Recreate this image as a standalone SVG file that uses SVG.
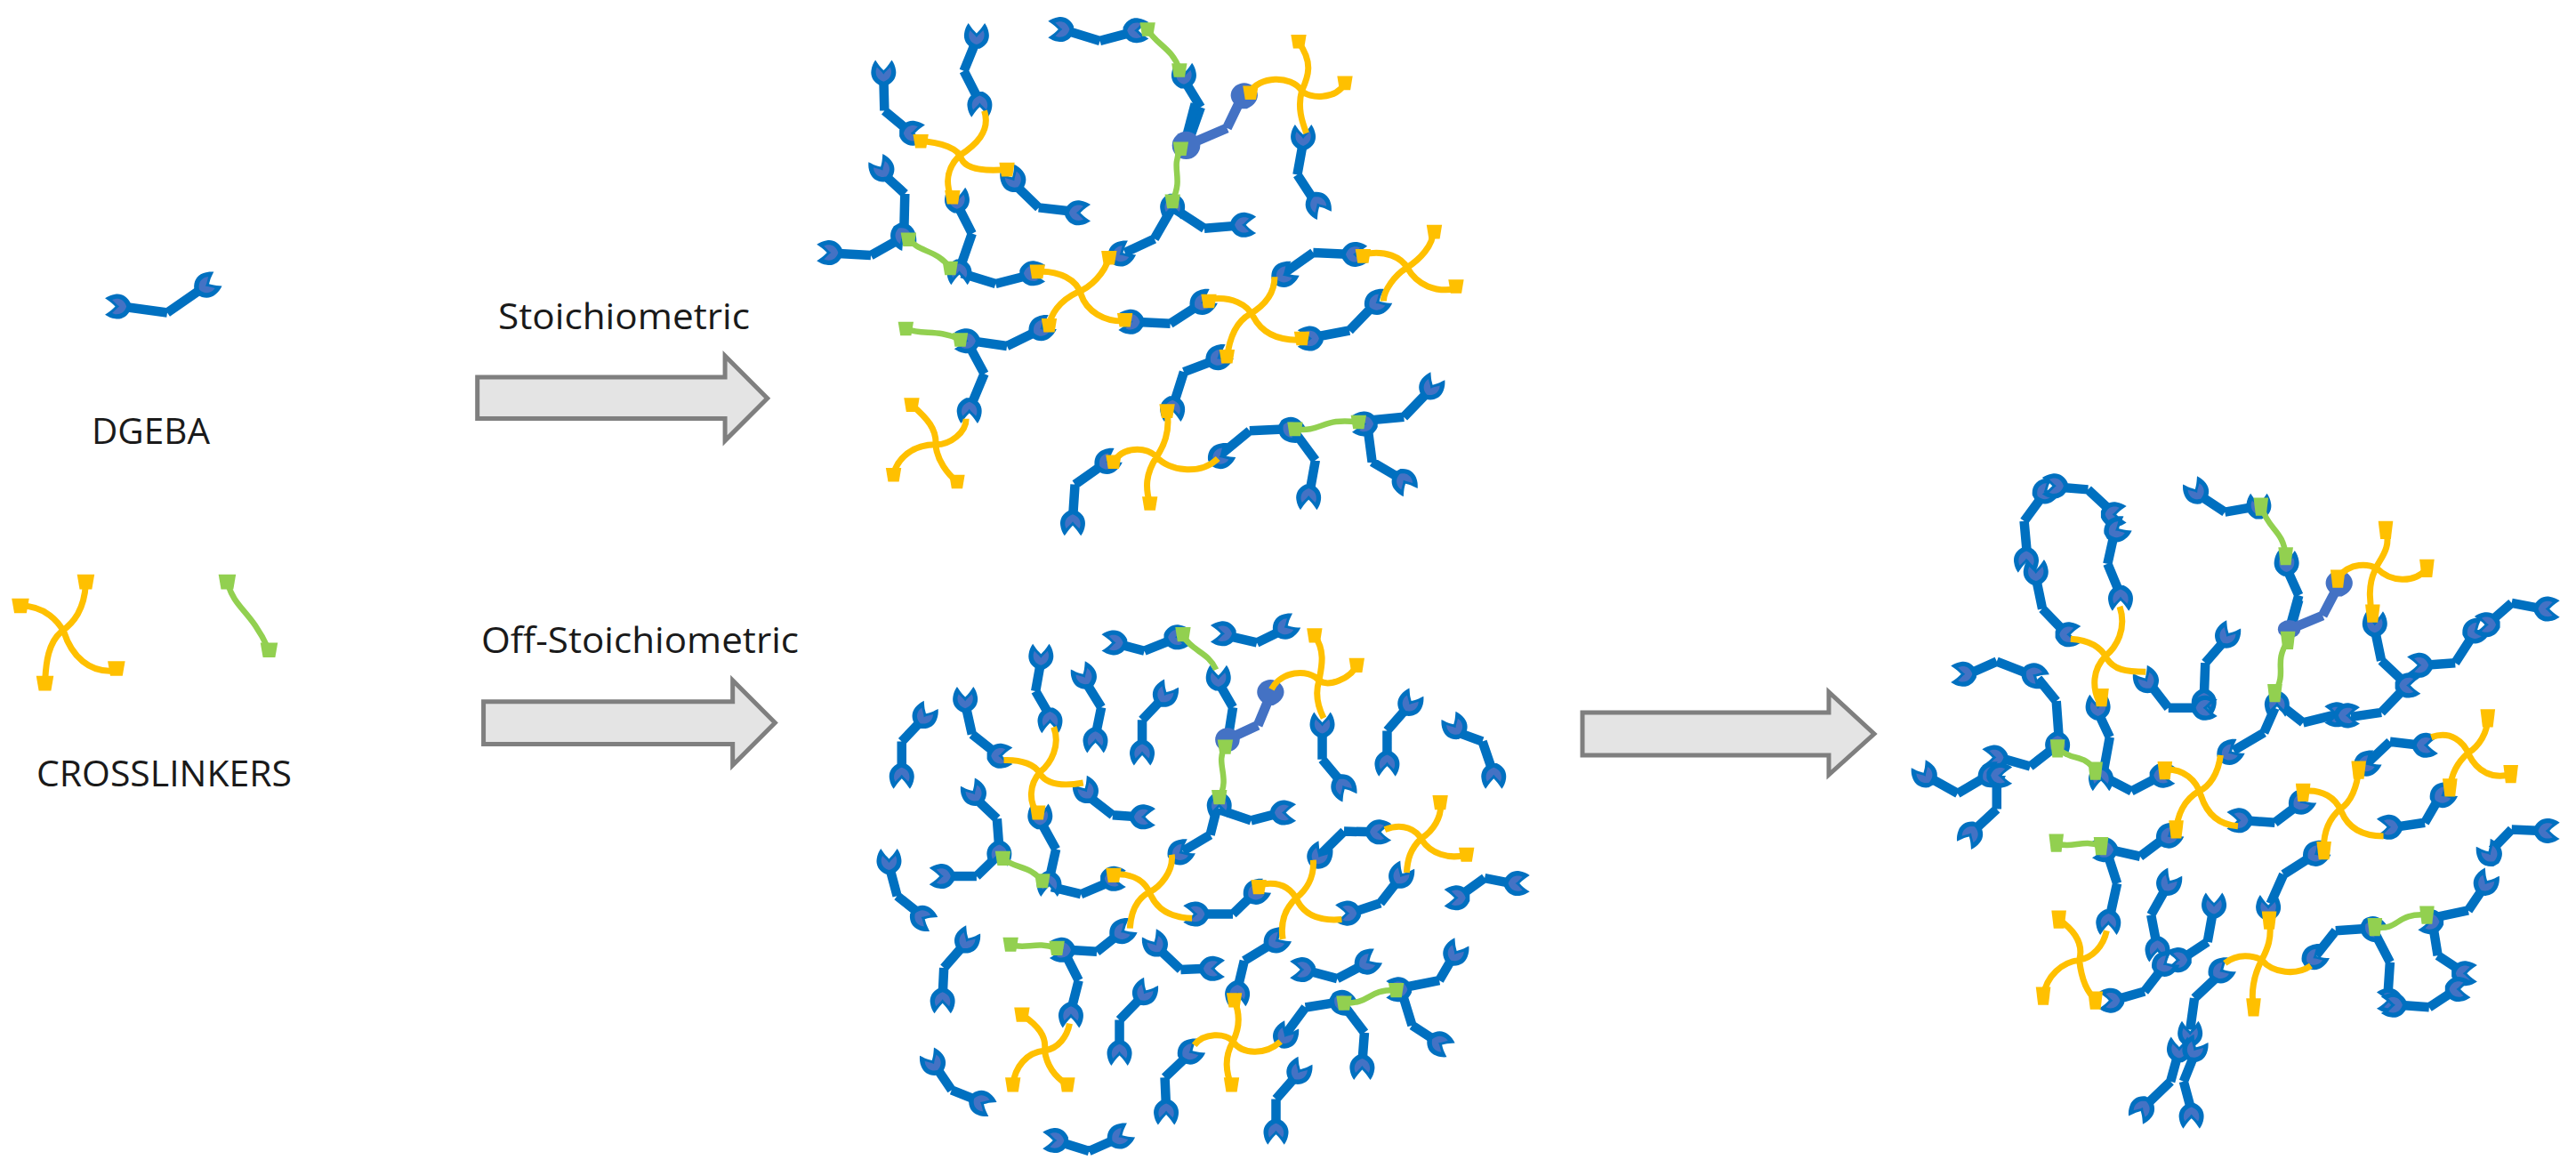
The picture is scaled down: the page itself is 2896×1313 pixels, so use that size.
<svg xmlns="http://www.w3.org/2000/svg" width="2896" height="1313" viewBox="0 0 2896 1313">
<style>
.b,.p,.y,.g{fill:none;vector-effect:non-scaling-stroke;stroke-linejoin:round}
.b{stroke:#0070C0;stroke-width:10.500}
.p{stroke:#4472C4;stroke-width:11}
.y{stroke:#FFC000;stroke-width:7}
.g{stroke:#92D050;stroke-width:6.500}
.arrow{fill:#E4E4E4;stroke:#7F7F7F;stroke-width:5;vector-effect:non-scaling-stroke}
text{font-family:"Open Sans","Liberation Sans",Arial,sans-serif;font-size:40px;fill:#1a1a1a}
</style>
<defs>
<g id="h" transform="scale(1.15)"><path fill="#0070C0" d="M-3 12C-10 9-13 3-12-3C-11.500-7-10-10-8-13C-6-10-4-7-2-5L0-3L2-5C4-7 6-10 8-13C10-10 11.500-7 12-3C13 3 10 9 3 12Z"/><path fill="#4472C4" d="M0 8C-6 6-8 2-7.500-3L-6.500-6L-1.500-1L0 1L1.500-1L6.500-6L7.500-3C8 2 6 6 0 8Z"/></g>
<path id="ph" fill="#4472C4" d="M-3 14C-12 10-16 3-15-3C-14-10-7-15 0-15C7-15 14-10 15-3C16 3 12 10 3 14Z"/>
<path id="ye" fill="#FFC000" d="M-17-20L17-20L12 20L-12 20Z"/>
<path id="ge" fill="#92D050" d="M-17-20L17-20L12 20L-12 20Z"/>
<g id="a0" transform="scale(1.96 2.57)"><use href="#h"/></g>
<g id="a30" transform="scale(1.96 2.57) rotate(30)"><use href="#h"/></g>
<g id="a60" transform="scale(1.96 2.57) rotate(60)"><use href="#h"/></g>
<g id="a90" transform="scale(1.96 2.57) rotate(90)"><use href="#h"/></g>
<g id="a120" transform="scale(1.96 2.57) rotate(120)"><use href="#h"/></g>
<g id="a150" transform="scale(1.96 2.57) rotate(150)"><use href="#h"/></g>
<g id="a180" transform="scale(1.96 2.57) rotate(180)"><use href="#h"/></g>
<g id="a270" transform="scale(1.96 2.57) rotate(270)"><use href="#h"/></g>
<g id="a330" transform="scale(1.96 2.57) rotate(330)"><use href="#h"/></g>
<g id="b0" transform="scale(1.96 2.475)"><use href="#h"/></g>
<g id="b30" transform="scale(1.96 2.475) rotate(30)"><use href="#h"/></g>
<g id="b60" transform="scale(1.96 2.475) rotate(60)"><use href="#h"/></g>
<g id="b90" transform="scale(1.96 2.475) rotate(90)"><use href="#h"/></g>
<g id="b120" transform="scale(1.96 2.475) rotate(120)"><use href="#h"/></g>
<g id="b150" transform="scale(1.96 2.475) rotate(150)"><use href="#h"/></g>
<g id="b180" transform="scale(1.96 2.475) rotate(180)"><use href="#h"/></g>
<g id="b270" transform="scale(1.96 2.475) rotate(270)"><use href="#h"/></g>
<g id="b330" transform="scale(1.96 2.475) rotate(330)"><use href="#h"/></g>
<g id="c0" transform="scale(2.047 1.976)"><use href="#h"/></g>
<g id="c30" transform="scale(2.047 1.976) rotate(30)"><use href="#h"/></g>
<g id="c60" transform="scale(2.047 1.976) rotate(60)"><use href="#h"/></g>
<g id="c90" transform="scale(2.047 1.976) rotate(90)"><use href="#h"/></g>
<g id="c120" transform="scale(2.047 1.976) rotate(120)"><use href="#h"/></g>
<g id="c150" transform="scale(2.047 1.976) rotate(150)"><use href="#h"/></g>
<g id="c180" transform="scale(2.047 1.976) rotate(180)"><use href="#h"/></g>
<g id="c210" transform="scale(2.047 1.976) rotate(210)"><use href="#h"/></g>
<g id="c270" transform="scale(2.047 1.976) rotate(270)"><use href="#h"/></g>
<g id="c330" transform="scale(2.047 1.976) rotate(330)"><use href="#h"/></g>
</defs>

<g id="legend-dgeba">
<path class="b" d="M133 344L188 351.500M188 351.500L232 321"/>
<use href="#h" transform="translate(133 344.500) rotate(270)"/>
<use href="#h" transform="translate(232 321) rotate(60)"/>
</g>
<g id="legend-crosslinkers" transform="translate(0 250) scale(.574 .4145)">
<path class="y" d="M40 1040C90 1040 115 1085 125 1110C140 1175 175 1225 228 1215M168 980C165 1050 145 1085 120 1110C95 1140 90 1190 88 1250"/>
<use href="#ye" x="168" y="975"/><use href="#ye" x="40" y="1040"/><use href="#ye" x="88" y="1250"/><use href="#ye" x="228" y="1210"/>
<path class="g" d="M445 975C460 1050 490 1050 525 1155"/>
<use href="#ge" x="445" y="975"/><use href="#ge" x="527" y="1160"/>
</g>
<g id="arrows" transform="translate(0 250) scale(.574 .4145)">
<path class="arrow" d="M935 420L1420 420L1420 362L1503 477L1420 592L1420 532L935 532Z"/>
<path class="arrow" d="M947 1300L1435 1300L1435 1242L1518 1357L1435 1472L1435 1415L947 1415Z"/>
</g>
<path id="arrow-3" class="arrow" d="M1779 801L2056 801L2056 778L2107 825L2056 871L2056 849L1779 849Z"/>

<text x="560" y="370" textLength="283" lengthAdjust="spacingAndGlyphs">Stoichiometric</text>
<text x="103" y="499" textLength="133" lengthAdjust="spacingAndGlyphs">DGEBA</text>
<text x="541" y="734" textLength="357" lengthAdjust="spacingAndGlyphs">Off-Stoichiometric</text>
<text x="41" y="884" textLength="287" lengthAdjust="spacingAndGlyphs">CROSSLINKERS</text>

<g id="network-stoichiometric" transform="translate(900 0) scale(.51 .389)">
<path class="b" d="M585 88L660 118M660 118L735 92M388 115L360 205M360 205L395 295M183 220L185 320M185 320L240 380M180 500L230 560M230 560L228 670M75 732L155 738M155 738L220 690M345 590L378 675M378 675L350 780M355 790L430 820M430 820L505 795M470 530L525 600M525 600L605 612M845 230L882 310M882 310L855 410M820 600L890 660M890 660L965 652M815 610L780 690M780 690L715 730M1108 410L1095 505M1095 505L1135 585M525 955L455 1000M455 1000L375 985M370 995L405 1080M405 1080L375 1175M735 930L815 935M815 935L880 880M1060 795L1130 730M1130 730L1215 735M1265 880L1210 955M1210 955L1130 975M915 1040L845 1075M845 1075L822 1170M925 1315L990 1245M990 1245L1075 1240M1090 1250L1135 1330M1135 1330L1122 1425M1250 1215L1330 1205M1330 1205L1385 1130M1250 1235L1260 1335M1260 1335L1325 1385M670 1340L605 1400M605 1400L600 1500"/>
<use href="#a270" x="575" y="85"/><use href="#a90" x="738" y="88"/><use href="#a0" x="388" y="105"/><use href="#a180" x="395" y="300"/><use href="#a0" x="183" y="212"/><use href="#a90" x="245" y="385"/><use href="#a330" x="180" y="490"/><use href="#a150" x="225" y="680"/><use href="#a270" x="65" y="730"/><use href="#a0" x="345" y="580"/><use href="#a180" x="350" y="785"/><use href="#a90" x="510" y="790"/><use href="#a330" x="470" y="520"/><use href="#a90" x="610" y="615"/><use href="#a0" x="845" y="220"/><use href="#a180" x="820" y="595"/><use href="#a90" x="975" y="650"/><use href="#a60" x="705" y="735"/><use href="#a0" x="1108" y="398"/><use href="#a150" x="1140" y="590"/><use href="#a60" x="530" y="950"/><use href="#a270" x="368" y="985"/><use href="#a180" x="372" y="1185"/><use href="#a270" x="730" y="930"/><use href="#a60" x="885" y="875"/><use href="#a60" x="1065" y="795"/><use href="#a90" x="1220" y="735"/><use href="#a60" x="1270" y="875"/><use href="#a270" x="1125" y="978"/><use href="#a60" x="920" y="1035"/><use href="#a180" x="820" y="1180"/><use href="#a60" x="925" y="1320"/><use href="#a120" x="1080" y="1240"/><use href="#a180" x="1120" y="1435"/><use href="#a270" x="1245" y="1225"/><use href="#a30" x="1390" y="1120"/><use href="#a150" x="1330" y="1390"/><use href="#a60" x="675" y="1335"/><use href="#a180" x="600" y="1510"/>
<path class="b" d="M850 400L870 300"/>
<path class="p" d="M975 275L940 370M940 370L860 415"/>
<ellipse cx="850" cy="420" rx="31" ry="40" fill="#4472C4"/>
<use href="#ph" transform="translate(978 278) scale(1.96 2.57)"/>
<path class="y" d="M262 408C310 410 350 430 355 460C365 490 410 495 455 490M405 320C420 380 385 420 350 450C320 490 320 530 332 570M1098 122C1130 180 1120 220 1105 262C1095 310 1105 350 1115 385M990 268C1010 220 1080 215 1105 262C1120 285 1180 290 1200 240M520 785C570 780 610 810 618 850C630 900 670 930 715 928M680 745C670 790 640 830 610 845C570 870 550 910 548 945M900 865C950 855 985 880 998 915C1020 970 1060 985 1105 982M1045 800C1045 850 1020 885 990 908C960 930 945 980 940 1035M1240 735C1290 720 1325 745 1338 775C1360 825 1400 845 1445 835M1395 665C1395 710 1365 750 1335 775C1310 795 1285 840 1285 870M245 1170C280 1210 300 1240 298 1285C300 1330 325 1370 345 1392M365 1210C365 1250 330 1285 298 1285C250 1285 215 1320 205 1370M808 1190C815 1250 800 1290 785 1320C760 1370 760 1410 770 1455M690 1335C710 1290 760 1290 785 1320C810 1360 880 1375 920 1325"/>
<use href="#ye" x="265" y="408"/><use href="#ye" x="335" y="570"/><use href="#ye" x="1098" y="120"/><use href="#ye" x="1200" y="240"/><use href="#ye" x="992" y="268"/><use href="#ye" x="522" y="785"/><use href="#ye" x="680" y="745"/><use href="#ye" x="548" y="940"/><use href="#ye" x="715" y="925"/><use href="#ye" x="900" y="870"/><use href="#ye" x="940" y="1030"/><use href="#ye" x="1105" y="978"/><use href="#ye" x="1240" y="740"/><use href="#ye" x="1397" y="670"/><use href="#ye" x="1445" y="828"/><use href="#ye" x="245" y="1170"/><use href="#ye" x="345" y="1392"/><use href="#ye" x="205" y="1372"/><use href="#ye" x="808" y="1188"/><use href="#ye" x="770" y="1455"/><use href="#ye" x="690" y="1335"/><use href="#ye" x="455" y="490"/>
<path class="g" d="M765 85C785 130 820 140 835 200M838 430C815 490 845 510 820 580M238 690C260 730 300 720 330 775M232 950C270 970 300 950 350 980M1090 1240C1150 1250 1150 1205 1230 1220"/>
<use href="#ge" x="765" y="85"/><use href="#ge" x="835" y="203"/><use href="#ge" x="838" y="430"/><use href="#ge" x="820" y="582"/><use href="#ge" x="238" y="692"/><use href="#ge" x="330" y="775"/><use href="#ge" x="232" y="950"/><use href="#ge" x="352" y="982"/><use href="#ge" x="1090" y="1240"/><use href="#ge" x="1230" y="1220"/>
</g>

<g id="network-off-stoichiometric" transform="translate(950 680) scale(.51 .404)">
<path class="b" d="M600 108L660 128M660 128L725 95M840 85L908 105M908 105L965 70M432 155L420 240M420 240L452 310M528 210L565 285M565 285L552 365M700 260L655 320M655 320L655 400M823 215L855 285M855 285L845 365M1052 345L1052 430M1052 430L1095 495M1240 285L1195 350M1195 350L1195 430M1340 350L1405 380M1405 380L1428 465M170 320L125 380M125 380L125 465M265 275L280 360M280 360L335 415M97 725L115 810M115 810L165 860M285 535L335 595M335 595L340 680M225 755L290 755M290 755L335 700M430 600L465 680M465 680L450 765M455 785L520 805M520 805L585 770M532 528L590 585M590 585L645 590M825 570L895 600M895 600L955 580M820 565L805 640M805 640L745 685M785 860L855 860M855 860L900 805M1040 705L1100 630M1100 630L1165 632M1220 765L1180 830M1180 830L1120 855M945 940L880 990M880 990L865 1070M965 1205L1015 1120M1015 1120L1090 1105M1100 1115L1145 1190M1145 1190L1140 1275M1230 1065L1310 1045M1310 1045L1340 980M1228 1080L1250 1170M1250 1170L1305 1215M605 915L555 965M555 965L490 960M485 970L515 1045M515 1045L498 1130M1470 775L1410 760M1410 760L1355 810M263 945L218 1010M218 1010L215 1090M690 955L740 1015M740 1015L798 1012M1020 1018L1085 1040M1085 1040L1145 1000M655 1090L605 1155M605 1155L605 1235M755 1255L705 1315M705 1315L708 1400M995 1310L950 1375M950 1375L950 1455M200 1285L235 1350M235 1350L295 1380M475 1495L538 1520M538 1520L600 1485"/>
<use href="#b270" x="595" y="105"/><use href="#b90" x="730" y="90"/><use href="#b270" x="835" y="80"/><use href="#b60" x="970" y="62"/><use href="#b0" x="432" y="145"/><use href="#b180" x="452" y="320"/><use href="#b330" x="528" y="200"/><use href="#b180" x="552" y="375"/><use href="#b30" x="705" y="250"/><use href="#b180" x="655" y="410"/><use href="#b0" x="823" y="205"/><use href="#b0" x="1052" y="335"/><use href="#b150" x="1098" y="505"/><use href="#b30" x="1245" y="275"/><use href="#b180" x="1195" y="440"/><use href="#b330" x="1345" y="340"/><use href="#b180" x="1430" y="475"/><use href="#b30" x="175" y="310"/><use href="#b180" x="125" y="475"/><use href="#b0" x="265" y="265"/><use href="#b90" x="340" y="420"/><use href="#b0" x="97" y="715"/><use href="#b120" x="170" y="870"/><use href="#b330" x="285" y="525"/><use href="#b180" x="340" y="690"/><use href="#b270" x="215" y="755"/><use href="#b0" x="430" y="590"/><use href="#b180" x="450" y="775"/><use href="#b90" x="590" y="762"/><use href="#b330" x="532" y="518"/><use href="#b90" x="655" y="590"/><use href="#b180" x="825" y="555"/><use href="#b90" x="965" y="578"/><use href="#b60" x="738" y="690"/><use href="#b270" x="775" y="860"/><use href="#b60" x="905" y="800"/><use href="#b30" x="1045" y="700"/><use href="#b90" x="1175" y="632"/><use href="#b30" x="1225" y="755"/><use href="#b270" x="1110" y="858"/><use href="#b60" x="950" y="935"/><use href="#b180" x="865" y="1080"/><use href="#b30" x="970" y="1200"/><use href="#b120" x="1095" y="1105"/><use href="#b180" x="1140" y="1285"/><use href="#b270" x="1222" y="1070"/><use href="#b30" x="1345" y="970"/><use href="#b120" x="1310" y="1220"/><use href="#b60" x="610" y="910"/><use href="#b270" x="480" y="960"/><use href="#b180" x="498" y="1140"/><use href="#b90" x="1480" y="775"/><use href="#b270" x="1350" y="815"/><use href="#b30" x="268" y="935"/><use href="#b180" x="215" y="1100"/><use href="#b330" x="685" y="945"/><use href="#b90" x="808" y="1012"/><use href="#b270" x="1010" y="1015"/><use href="#b60" x="1150" y="995"/><use href="#b30" x="660" y="1080"/><use href="#b180" x="605" y="1245"/><use href="#b60" x="760" y="1245"/><use href="#b180" x="708" y="1410"/><use href="#b30" x="1000" y="1300"/><use href="#b180" x="950" y="1465"/><use href="#b330" x="195" y="1275"/><use href="#b120" x="300" y="1385"/><use href="#b270" x="465" y="1490"/><use href="#b60" x="605" y="1480"/>
<path class="p" d="M938 250L910 335M910 335L850 370"/>
<ellipse cx="843" cy="375" rx="27" ry="33" fill="#4472C4"/>
<use href="#ph" transform="translate(938 245) scale(1.96 2.475)"/>
<path class="y" d="M350 432C390 430 420 445 430 470C445 500 480 505 525 495M460 340C475 390 455 440 430 465C405 500 405 550 425 580M1035 85C1060 130 1050 175 1045 210C1035 250 1045 290 1055 315M940 235C960 185 1020 175 1045 210C1065 230 1115 205 1128 168M590 750C640 745 665 775 675 810C690 850 720 870 765 872M720 695C725 740 695 785 670 800C640 820 630 860 628 900M910 780C960 765 985 790 998 825C1015 865 1050 880 1095 875M1032 710C1035 760 1015 795 995 815C965 850 960 890 965 930M1190 625C1230 605 1260 625 1272 655C1290 690 1330 710 1370 695M1312 545C1318 590 1295 630 1270 650C1245 680 1240 710 1238 745M390 1140C425 1170 445 1200 440 1240C445 1285 465 1315 490 1335M495 1165C490 1200 470 1235 440 1240C400 1245 375 1285 370 1335M858 1100C875 1150 865 1190 855 1215C835 1260 840 1300 852 1340M770 1225C790 1190 840 1190 855 1215C875 1250 925 1255 960 1215"/>
<use href="#ye" x="425" y="578"/><use href="#ye" x="1035" y="85"/><use href="#ye" x="1128" y="168"/><use href="#ye" x="592" y="752"/><use href="#ye" x="912" y="785"/><use href="#ye" x="1312" y="550"/><use href="#ye" x="1370" y="695"/><use href="#ye" x="390" y="1140"/><use href="#ye" x="490" y="1335"/><use href="#ye" x="370" y="1335"/><use href="#ye" x="858" y="1100"/><use href="#ye" x="852" y="1335"/>
<path class="g" d="M745 85C765 130 800 130 818 180M838 395C815 440 850 480 825 535M348 705C375 735 410 725 435 770M362 945C400 960 420 935 465 955M1100 1108C1160 1110 1150 1070 1215 1072"/>
<use href="#ge" x="745" y="82"/><use href="#ge" x="838" y="395"/><use href="#ge" x="825" y="535"/><use href="#ge" x="348" y="705"/><use href="#ge" x="435" y="768"/><use href="#ge" x="365" y="945"/><use href="#ge" x="467" y="955"/><use href="#ge" x="1100" y="1108"/><use href="#ge" x="1215" y="1072"/>
</g>

<g id="network-final" transform="translate(2130 520) scale(.4885 .506)">
<path class="b" d="M340 75L298 130M298 130L305 205M380 55L445 60M445 60L495 105M505 160L490 225M490 225L518 290M325 255L340 325M340 325L390 375M705 75L760 110M760 110L830 98M902 235L930 295M930 295L910 365M890 540L940 578M940 578L1015 560M1050 565L1120 555M1120 555L1175 500M1105 370L1120 440M1120 440L1175 490M1220 450L1290 445M1290 445L1330 385M1375 350L1420 312M1420 312L1490 325M875 545L850 600M850 600L780 640M760 395L715 445M715 445L712 520M590 495L630 545M630 545L700 545M170 470L235 442M235 442L310 470M330 480L372 530M372 530L378 610M365 635L312 675M312 675L240 655M80 700L145 735M145 735L215 695M235 700L235 770M235 770L185 815M468 555L495 610M495 610L480 690M485 700L545 730M545 730L605 700M805 795L875 800M875 800L930 760M1080 675L1140 620M1140 620L1210 628M1250 750L1220 800M1220 800L1150 810M960 875L895 915M895 915L865 980M620 835L565 875M565 875L495 860M490 870L512 935M512 935L495 1010M625 945L590 1005M590 1005L603 1070M733 995L720 1065M720 1065L665 1100M615 1125L575 1175M575 1175L510 1193M745 1140L690 1190M690 1190L680 1260M652 1315L635 1375M635 1375L578 1428M690 1315L665 1375M665 1375L683 1440M970 1095L1015 1040M1015 1040L1090 1035M1105 1045L1140 1110M1140 1110L1135 1185M1245 1010L1320 995M1320 995L1355 945M1375 860L1420 815M1420 815L1490 818M1240 1035L1250 1095M1250 1095L1305 1130M1285 1175L1230 1210M1230 1210L1160 1205"/>
<use href="#c60" x="345" y="65"/><use href="#c180" x="303" y="215"/><use href="#c270" x="370" y="52"/><use href="#c90" x="503" y="115"/><use href="#c60" x="510" y="150"/><use href="#c180" x="520" y="300"/><use href="#c0" x="325" y="245"/><use href="#c90" x="398" y="382"/><use href="#c330" x="695" y="65"/><use href="#c0" x="838" y="98"/><use href="#c0" x="902" y="225"/><use href="#c180" x="880" y="535"/><use href="#c270" x="1020" y="560"/><use href="#c90" x="1040" y="562"/><use href="#c90" x="1180" y="495"/><use href="#c0" x="1105" y="360"/><use href="#c270" x="1210" y="450"/><use href="#c60" x="1335" y="375"/><use href="#c270" x="1365" y="360"/><use href="#c90" x="1500" y="325"/><use href="#c60" x="770" y="645"/><use href="#c30" x="765" y="385"/><use href="#c180" x="712" y="530"/><use href="#c330" x="580" y="485"/><use href="#c90" x="712" y="545"/><use href="#c270" x="160" y="470"/><use href="#c120" x="320" y="472"/><use href="#c180" x="375" y="625"/><use href="#c270" x="232" y="655"/><use href="#c330" x="70" y="695"/><use href="#c60" x="220" y="695"/><use href="#c90" x="240" y="695"/><use href="#c210" x="175" y="825"/><use href="#c0" x="468" y="545"/><use href="#c180" x="475" y="700"/><use href="#c90" x="615" y="695"/><use href="#c270" x="795" y="795"/><use href="#c60" x="935" y="755"/><use href="#c60" x="1085" y="670"/><use href="#c90" x="1220" y="628"/><use href="#c60" x="1260" y="740"/><use href="#c270" x="1140" y="810"/><use href="#c60" x="968" y="870"/><use href="#c0" x="860" y="990"/><use href="#c60" x="630" y="830"/><use href="#c270" x="485" y="860"/><use href="#c180" x="492" y="1020"/><use href="#c30" x="630" y="935"/><use href="#c180" x="605" y="1080"/><use href="#c0" x="735" y="985"/><use href="#c270" x="655" y="1105"/><use href="#c60" x="620" y="1115"/><use href="#c270" x="500" y="1195"/><use href="#c60" x="750" y="1130"/><use href="#c0" x="680" y="1270"/><use href="#c0" x="655" y="1305"/><use href="#c210" x="570" y="1435"/><use href="#c30" x="690" y="1305"/><use href="#c180" x="683" y="1450"/><use href="#c60" x="965" y="1100"/><use href="#c120" x="1100" y="1035"/><use href="#c270" x="1140" y="1195"/><use href="#c270" x="1235" y="1020"/><use href="#c30" x="1360" y="935"/><use href="#c330" x="1370" y="870"/><use href="#c90" x="1500" y="818"/><use href="#c90" x="1310" y="1135"/><use href="#c90" x="1295" y="1170"/><use href="#c270" x="1150" y="1205"/>
<path class="b" d="M910 375L930 305"/>
<path class="p" d="M1023 270L985 340M985 340L905 372"/>
<ellipse cx="908" cy="370" rx="26" ry="20" fill="#4472C4"/>
<use href="#ph" transform="translate(1023 270) scale(2.047 1.976)"/>
<path class="y" d="M405 392C450 395 475 410 488 435C505 460 530 465 578 465M518 320C535 370 510 410 485 430C455 460 455 500 470 530M1130 150C1145 190 1115 215 1105 240C1090 270 1092 310 1100 340M1020 255C1050 220 1090 225 1110 235C1140 265 1195 270 1225 235M622 682C665 680 695 705 705 740C720 785 750 805 790 808M750 650C745 690 725 720 700 730C665 750 650 785 648 820M940 730C985 725 1015 745 1028 775C1045 815 1080 830 1125 830M1068 680C1065 720 1050 755 1025 770C995 795 985 830 988 870M1235 610C1280 595 1310 620 1322 650C1340 685 1375 705 1420 692M1365 565C1365 600 1345 630 1320 645C1290 670 1280 700 1278 725M378 1015C415 1040 435 1070 425 1105C430 1150 445 1180 465 1195M488 1040C480 1075 455 1100 425 1105C385 1110 350 1140 342 1185M862 1015C870 1060 855 1085 845 1105C825 1140 820 1180 826 1210M760 1112C790 1090 825 1095 845 1105C870 1135 925 1140 958 1118"/>
<use href="#ye" x="476" y="522"/><use href="#ye" x="1130" y="150"/><use href="#ye" x="1225" y="235"/><use href="#ye" x="1100" y="335"/><use href="#ye" x="1020" y="258"/><use href="#ye" x="622" y="684"/><use href="#ye" x="648" y="815"/><use href="#ye" x="940" y="733"/><use href="#ye" x="1068" y="683"/><use href="#ye" x="988" y="862"/><use href="#ye" x="1365" y="568"/><use href="#ye" x="1418" y="692"/><use href="#ye" x="1278" y="722"/><use href="#ye" x="378" y="1015"/><use href="#ye" x="462" y="1195"/><use href="#ye" x="342" y="1185"/><use href="#ye" x="862" y="1017"/><use href="#ye" x="826" y="1210"/>
<path class="g" d="M845 100C860 150 895 150 900 208M905 395C870 450 905 460 875 512M375 635C410 665 435 645 462 685M370 845C410 860 430 835 475 852M1105 1032C1165 1040 1150 1000 1225 1005"/>
<use href="#ge" x="843" y="98"/><use href="#ge" x="900" y="208"/><use href="#ge" x="905" y="395"/><use href="#ge" x="875" y="512"/><use href="#ge" x="375" y="635"/><use href="#ge" x="462" y="685"/><use href="#ge" x="372" y="845"/><use href="#ge" x="475" y="852"/><use href="#ge" x="1105" y="1032"/><use href="#ge" x="1225" y="1005"/>
</g>
</svg>
